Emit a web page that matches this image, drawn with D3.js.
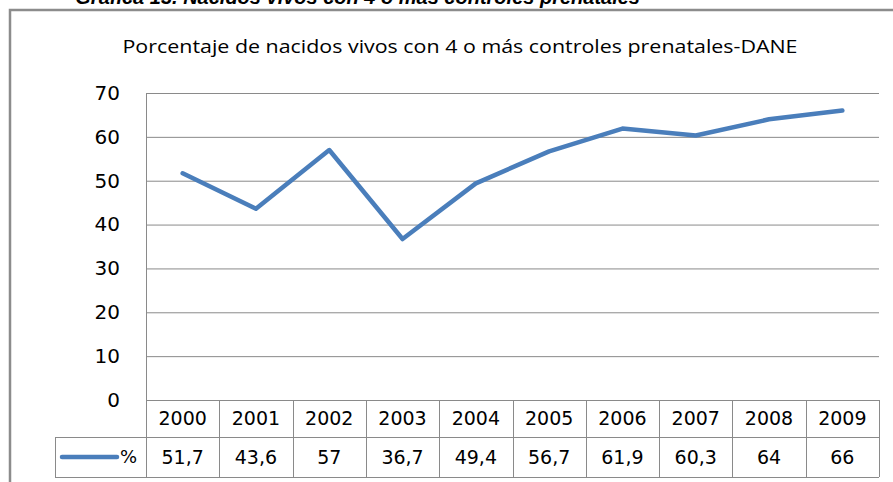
<!DOCTYPE html>
<html>
<head>
<meta charset="utf-8">
<script src="https://cdn.jsdelivr.net/npm/d3@7"></script>
<style>
  body { margin: 0; background: #fff; }
  svg { display: block; }
  text { font-family: "DejaVu Sans", sans-serif; fill: #000; }
</style>
</head>
<body>
<svg id="chart" width="893" height="482"></svg>
<script>
const years = ["2000", "2001", "2002", "2003", "2004", "2005", "2006", "2007", "2008", "2009"];
const values = [51.7, 43.6, 57, 36.7, 49.4, 56.7, 61.9, 60.3, 64, 66];
const valueLabels = ["51,7", "43,6", "57", "36,7", "49,4", "56,7", "61,9", "60,3", "64", "66"];
const yTicks = [0, 10, 20, 30, 40, 50, 60, 70];
const seriesName = "%";

const W = 893, H = 482;
const plot = { left: 146, right: 879, top: 93, bottom: 400 };
const table = { legendLeft: 55, mid: 437, bottom: 477 };
const gridColor = "#8a8a8a";
const lineColor = "#4a7ebb";

const svg = d3.select("#chart");

// caption, cut off at the top of the page like in the source scan
svg.append("text")
    .attr("x", 640).attr("y", 4)
    .attr("text-anchor", "end")
    .style("font-family", "'Liberation Sans', sans-serif")
    .style("font-weight", "bold").style("font-style", "italic")
    .style("font-size", "20px")
    .text("Gráfica 13. Nacidos vivos con 4 o más controles prenatales");

// chart border
svg.append("rect")
    .attr("x", 10).attr("y", 10)
    .attr("width", W + 20).attr("height", H + 20)
    .attr("fill", "#fff")
    .attr("stroke", "#8c8c8c").attr("stroke-width", 2.5);

svg.append("text")
    .attr("x", 460).attr("y", 53)
    .attr("text-anchor", "middle")
    .style("font-family", "'Open Sans', sans-serif")
    .style("font-size", "18px")
    .attr("textLength", 675).attr("lengthAdjust", "spacingAndGlyphs")
    .text("Porcentaje de nacidos vivos con 4 o más controles prenatales-DANE");

const x = d3.scaleBand().domain(years).range([plot.left, plot.right]);
const y = d3.scaleLinear().domain([0, 70]).range([plot.bottom, plot.top]);

// gridlines
svg.append("g")
    .selectAll("line")
    .data(yTicks.filter(d => d > 0))
    .join("line")
    .attr("x1", plot.left).attr("x2", plot.right)
    .attr("y1", d => y(d) + 0.5).attr("y2", d => y(d) + 0.5)
    .attr("stroke", gridColor).attr("stroke-width", 1);

// y axis
const yAxis = svg.append("g")
    .attr("transform", `translate(${plot.left},0)`)
    .call(d3.axisLeft(y).tickValues(yTicks).tickSize(0).tickPadding(26));
yAxis.select(".domain").attr("stroke", gridColor);
yAxis.selectAll("text")
    .style("font-family", "'DejaVu Sans', sans-serif")
    .style("font-size", "20px")
    .attr("fill", "#000");

// data table lines
const tg = svg.append("g").attr("stroke", gridColor).attr("stroke-width", 1);
const cols = years.map(d => x(d)).concat([plot.right]);
tg.selectAll(".v")
    .data(cols)
    .join("line")
    .attr("x1", d => Math.round(d) + 0.5).attr("x2", d => Math.round(d) + 0.5)
    .attr("y1", plot.bottom).attr("y2", table.bottom);
tg.append("line")
    .attr("x1", table.legendLeft + 0.5).attr("x2", table.legendLeft + 0.5)
    .attr("y1", table.mid).attr("y2", table.bottom);
tg.append("line")
    .attr("x1", plot.left).attr("x2", plot.right)
    .attr("y1", plot.bottom + 0.5).attr("y2", plot.bottom + 0.5);
tg.selectAll(".h")
    .data([table.mid, table.bottom])
    .join("line")
    .attr("x1", table.legendLeft).attr("x2", plot.right)
    .attr("y1", d => d + 0.5).attr("y2", d => d + 0.5);

// table text
svg.append("g")
    .selectAll("text")
    .data(years)
    .join("text")
    .attr("x", d => x(d) + x.bandwidth() / 2)
    .attr("y", (plot.bottom + table.mid) / 2)
    .attr("dy", "0.36em")
    .attr("text-anchor", "middle")
    .style("font-size", "19px")
    .text(d => d);

svg.append("g")
    .selectAll("text")
    .data(valueLabels)
    .join("text")
    .attr("x", (d, i) => x(years[i]) + x.bandwidth() / 2)
    .attr("y", (table.mid + table.bottom) / 2)
    .attr("dy", "0.36em")
    .attr("text-anchor", "middle")
    .style("font-size", "19px")
    .text(d => d);

// legend key
const ly = (table.mid + table.bottom) / 2;
svg.append("line")
    .attr("x1", 62).attr("x2", 117)
    .attr("y1", ly).attr("y2", ly)
    .attr("stroke", lineColor).attr("stroke-width", 4.5)
    .attr("stroke-linecap", "round");
svg.append("text")
    .attr("x", 120).attr("y", ly)
    .attr("dy", "0.36em")
    .style("font-size", "18px")
    .text(seriesName);

// series line
const line = d3.line()
    .x((d, i) => x(years[i]) + x.bandwidth() / 2)
    .y(d => y(d));
svg.append("path")
    .datum(values)
    .attr("d", line)
    .attr("fill", "none")
    .attr("stroke", lineColor)
    .attr("stroke-width", 4.5)
    .attr("stroke-linejoin", "round")
    .attr("stroke-linecap", "round");
</script>
</body>
</html>
